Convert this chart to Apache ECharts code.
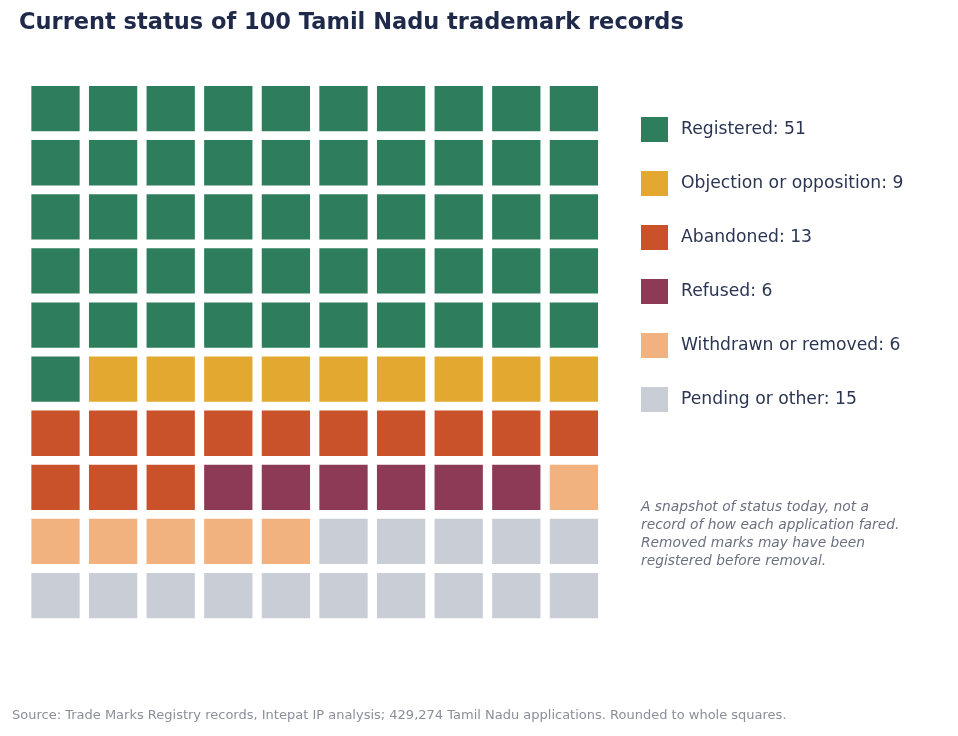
<!DOCTYPE html>
<html>
<head>
<meta charset="utf-8">
<script src="https://cdn.jsdelivr.net/npm/echarts@6/dist/echarts.min.js"></script>
<style>
  html, body { margin: 0; padding: 0; background: #fff; }
  #box { width: 958px; height: 736px; }
</style>
</head>
<body>
<div id="box"></div>
<script>
// status categories and their square counts (out of 100)
var statuses = ['Registered', 'Objection or opposition', 'Abandoned', 'Refused', 'Withdrawn or removed', 'Pending or other'];
var counts = [51, 9, 13, 6, 6, 15];
var colors = ['#2e7d5c', '#e3a82f', '#c9522a', '#8c3a55', '#f1b280', '#c9ced6'];
var cols = ['0', '1', '2', '3', '4', '5', '6', '7', '8', '9'];
var rows = ['0', '1', '2', '3', '4', '5', '6', '7', '8', '9'];

var myChart = echarts.init(document.getElementById('box'));

// lay squares out row by row, left to right
var series = [];
var idx = 0;
statuses.forEach(function (name, k) {
    var cells = [];
    for (var j = 0; j < counts[k]; j++) {
        cells.push([idx % 10, Math.floor(idx / 10)]);
        idx++;
    }
    series.push({
        name: name,
        type: 'custom',
        itemStyle: { color: colors[k] },
        renderItem: function (params, api) {
            var p = api.coord([api.value(0), api.value(1)]);
            var s = api.size([1, 1]);
            var w = s[0] - 9.3, h = s[1] - 8.8;
            return {
                type: 'rect',
                shape: { x: p[0] - w / 2, y: p[1] - h / 2, width: w, height: h },
                style: { fill: colors[k] }
            };
        },
        data: cells
    });
});

var option = {
    backgroundColor: '#ffffff',
    animation: false,
    title: {
        text: 'Current status of 100 Tamil Nadu trademark records',
        left: 14,
        top: 7,
        textStyle: {
            fontFamily: 'DejaVu Sans',
            fontSize: 22.5,
            fontWeight: 'bold',
            color: '#1f2a4a'
        }
    },
    grid: {
        left: 26.7,
        top: 81.6,
        width: 576,
        height: 541
    },
    xAxis: {
        type: 'category',
        data: cols,
        show: false
    },
    yAxis: {
        type: 'category',
        data: rows,
        inverse: true,
        show: false
    },
    legend: {
        orient: 'vertical',
        left: 636,
        top: 112,
        icon: 'rect',
        itemWidth: 27,
        itemHeight: 25,
        itemGap: 29,
        selectedMode: false,
        data: statuses,
        formatter: function (name) {
            return name + ': ' + counts[statuses.indexOf(name)];
        },
        textStyle: {
            fontFamily: 'DejaVu Sans',
            fontSize: 17.2,
            color: '#2a3552',
            padding: [0, 0, 0, 8]
        }
    },
    graphic: [
        {
            type: 'text',
            left: 641,
            top: 498,
            style: {
                text: 'A snapshot of status today, not a\nrecord of how each application fared.\nRemoved marks may have been\nregistered before removal.',
                font: 'italic 13.8px "DejaVu Sans"',
                lineHeight: 18,
                fill: '#6b7080'
            }
        },
        {
            type: 'text',
            left: 12,
            top: 709,
            style: {
                text: 'Source: Trade Marks Registry records, Intepat IP analysis; 429,274 Tamil Nadu applications. Rounded to whole squares.',
                font: '13px "DejaVu Sans"',
                fill: '#8a8f9a'
            }
        }
    ],
    series: series
};

myChart.setOption(option);
</script>
</body>
</html>
